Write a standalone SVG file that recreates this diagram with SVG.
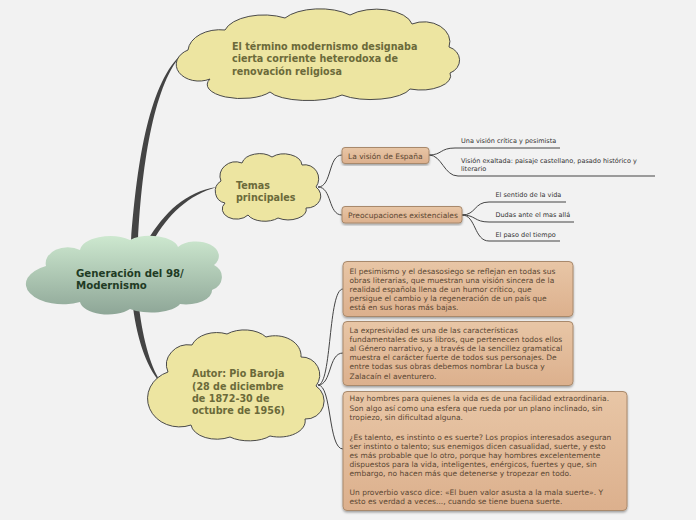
<svg xmlns="http://www.w3.org/2000/svg" width="696" height="520" viewBox="0 0 696 520">
<defs>
<linearGradient id="gMain" x1="0" y1="0" x2="0" y2="1">
<stop offset="0" stop-color="#cde8cf"/>
<stop offset="1" stop-color="#8ea697"/>
</linearGradient>
<linearGradient id="gBox" x1="0" y1="0" x2="0" y2="1">
<stop offset="0" stop-color="#e8c6a6"/>
<stop offset="1" stop-color="#dcb08d"/>
</linearGradient>
<filter id="sh" x="-5%" y="-5%" width="110%" height="120%">
<feDropShadow dx="0" dy="1.5" stdDeviation="1" flood-color="#000" flood-opacity="0.35"/>
</filter>
</defs>
<style>
.cloud{fill:#ede5a1;stroke:#4a4a4a;stroke-width:1}
.ct{font-family:"DejaVu Sans","Liberation Sans",sans-serif;font-weight:bold;font-size:9.6px;fill:#6b6a3a}
.mt{font-family:"DejaVu Sans","Liberation Sans",sans-serif;font-weight:bold;font-size:10.2px;fill:#1f3b24}
.box{fill:url(#gBox);stroke:#a8896c;stroke-width:1;filter:url(#sh)}
.bt{font-family:"DejaVu Sans","Liberation Sans",sans-serif;font-size:7.5px;fill:#5b4733}
.lt{font-family:"DejaVu Sans","Liberation Sans",sans-serif;font-size:6.5px;fill:#333}
.br{fill:#444}
.cn{fill:none;stroke:#444;stroke-width:1}
</style>
<rect width="696" height="520" fill="#f2f2f2"/>

<g id="connectors">
<path class="br" d="M131 241 C137 160 150 80 183 53 C155 82 142 160 138 241 Z"/>
<path class="br" d="M147 241 C165 212 185 192 217 187 C188 195 168 215 153 241 Z"/>
<path class="br" d="M133 307 C137 340 148 372 163 385 C151 370 143 340 139 307 Z"/>
<path class="cn" d="M318 187 C332 187 328 155 342 155"/>
<path class="cn" d="M318 187 C332 187 328 215 342 215"/>
<path class="cn" d="M429 155 C442 155 440 148 455 148 L560 148"/>
<path class="cn" d="M429 155 C442 155 444 176 458 176 L655 176"/>
<path class="cn" d="M462 215 C476 215 474 202 489 202 L566 202"/>
<path class="cn" d="M462 215 C476 215 474 222 489 222 L574 222"/>
<path class="cn" d="M462 215 C476 215 474 241 489 241 L560 241"/>
<path class="cn" d="M318 385 C332 385 328 289 343 289"/>
<path class="cn" d="M318 385 C332 385 328 353 343 353"/>
<path class="cn" d="M318 385 C332 385 328 449 343 449"/>
</g>

<g id="main">
<path fill="url(#gMain)" d="M46 266 A22 16 0 0 1 80 250 A30 15 0 0 1 130 240 A28 13 0 0 1 178 247 A22 14 0 0 1 214 265 A16 14 0 0 1 212 290 A26 14 0 0 1 180 304 A30 12 0 0 1 130 309 A28 14 0 0 1 80 302 A22 12 0 0 1 46 266 Z"/>
<text class="mt" x="76" y="277">Generación del 98/</text>
<text class="mt" x="76" y="289">Modernismo</text>
</g>

<g id="n-termino">
<path class="cloud" d="M188 50 A32 22 0 0 1 225 30 A40 20 0 0 1 285 18 A40 18 0 0 1 350 15 A36 18 0 0 1 412 24 A26 20 0 0 1 449 47 A16 14 0 0 1 450 73 A30 14 0 0 1 410 89 A40 14 0 0 1 342 95 A40 12 0 0 1 270 92 A34 14 0 0 1 210 79 A22 16 0 0 1 188 50 Z"/>
<text class="ct" x="232" y="50">El término modernismo designaba</text>
<text class="ct" x="232" y="62">cierta corriente heterodoxa de</text>
<text class="ct" x="232" y="75">renovación religiosa</text>
</g>

<g id="n-temas">
<path class="cloud" d="M221 181 A16 14 0 0 1 242 163 A18 12 0 0 1 272 157 A18 12 0 0 1 302 165 A14 14 0 0 1 316 187 A14 12 0 0 1 306 208 A18 10 0 0 1 278 218 A18 10 0 0 1 248 215 A14 10 0 0 1 225 203 A12 12 0 0 1 221 181 Z"/>
<text class="ct" x="236" y="189">Temas</text>
<text class="ct" x="236" y="201">principales</text>
</g>

<g id="n-autor">
<path class="cloud" d="M168 372 A22 20 0 0 1 192 345 A26 18 0 0 1 227 334 A26 16 0 0 1 266 337 A26 20 0 0 1 301 357 A18 18 0 0 1 316 386 A18 18 0 0 1 305 419 A26 16 0 0 1 270 436 A26 12 0 0 1 230 437 A26 16 0 0 1 191 425 A18 16 0 0 1 168 372 Z"/>
<text class="ct" x="192" y="377">Autor: Pio Baroja</text>
<text class="ct" x="192" y="390">(28 de diciembre</text>
<text class="ct" x="192" y="402">de 1872-30 de</text>
<text class="ct" x="192" y="414">octubre de 1956)</text>
</g>

<g id="n-vision">
<rect class="box" x="342" y="147.5" width="87" height="16" rx="3"/>
<text class="bt" x="348" y="158.5">La visión de España</text>
</g>

<g id="n-preocupaciones">
<rect class="box" x="342" y="206.5" width="120" height="16.5" rx="3"/>
<text class="bt" x="348" y="218">Preocupaciones existenciales</text>
</g>

<g id="l-critica"><text class="lt" x="461" y="143">Una visión crítica y pesimista</text></g>
<g id="l-exaltada">
<text class="lt" x="461" y="163">Visión exaltada: paisaje castellano, pasado histórico y</text>
<text class="lt" x="461" y="171">literario</text>
</g>
<g id="l-sentido"><text class="lt" x="495.5" y="197">El sentido de la vida</text></g>
<g id="l-dudas"><text class="lt" x="495.5" y="217">Dudas ante el mas allá</text></g>
<g id="l-paso"><text class="lt" x="495.5" y="237">El paso del tiempo</text></g>

<g id="b-pesimismo">
<rect class="box" x="343" y="261.5" width="230" height="55" rx="4"/>
<text class="bt" x="349.5" y="273.5">El pesimismo y el desasosiego se reflejan en todas sus</text>
<text class="bt" x="349.5" y="282.5">obras literarias, que muestran una visión sincera de la</text>
<text class="bt" x="349.5" y="291.5">realidad española llena de un humor crítico, que</text>
<text class="bt" x="349.5" y="300.5">persigue el cambio y la regeneración de un país que</text>
<text class="bt" x="349.5" y="310">está en sus horas más bajas.</text>
</g>

<g id="b-expresividad">
<rect class="box" x="343" y="321.5" width="230" height="64" rx="4"/>
<text class="bt" x="349.5" y="333">La expresividad es una de las características</text>
<text class="bt" x="349.5" y="342">fundamentales de sus libros, que pertenecen todos ellos</text>
<text class="bt" x="349.5" y="351">al Género narrativo, y a través de la sencillez gramatical</text>
<text class="bt" x="349.5" y="360">muestra el carácter fuerte de todos sus personajes. De</text>
<text class="bt" x="349.5" y="369">entre todas sus obras debemos nombrar La busca y</text>
<text class="bt" x="349.5" y="378.5">Zalacaín el aventurero.</text>
</g>

<g id="b-hombres">
<rect class="box" x="343" y="391.5" width="284" height="119" rx="4"/>
<text class="bt" x="349.5" y="401">Hay hombres para quienes la vida es de una facilidad extraordinaria.</text>
<text class="bt" x="349.5" y="410.5">Son algo así como una esfera que rueda por un plano inclinado, sin</text>
<text class="bt" x="349.5" y="420">tropiezo, sin dificultad alguna.</text>
<text class="bt" x="349.5" y="439.5">¿Es talento, es instinto o es suerte? Los propios interesados aseguran</text>
<text class="bt" x="349.5" y="449">ser instinto o talento; sus enemigos dicen casualidad, suerte, y esto</text>
<text class="bt" x="349.5" y="458">es más probable que lo otro, porque hay hombres excelentemente</text>
<text class="bt" x="349.5" y="467">dispuestos para la vida, inteligentes, enérgicos, fuertes y que, sin</text>
<text class="bt" x="349.5" y="476">embargo, no hacen más que detenerse y tropezar en todo.</text>
<text class="bt" x="349.5" y="495">Un proverbio vasco dice: «El buen valor asusta a la mala suerte». Y</text>
<text class="bt" x="349.5" y="504">esto es verdad a veces..., cuando se tiene buena suerte.</text>
</g>
</svg>
